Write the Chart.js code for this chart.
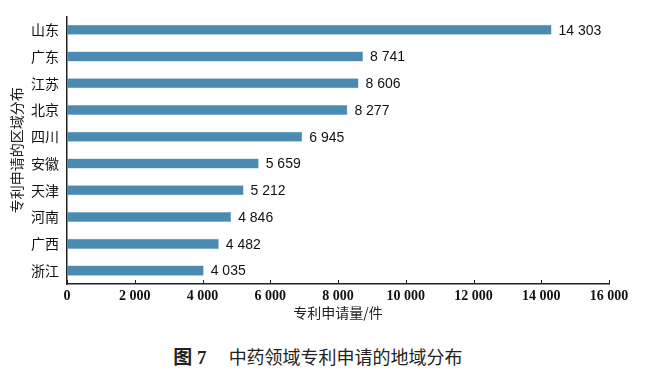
<!DOCTYPE html>
<html>
<head>
<meta charset="utf-8">
<script src="https://cdn.jsdelivr.net/npm/chart.js@4"></script>
<style>
    body { margin: 0; background: #fff; }
    #wrap { position: relative; width: 652px; height: 330px; }
    .caption {
        width: 652px; text-align: center; margin-top: 12px;
        font-family: "Noto Sans CJK SC", sans-serif; font-size: 18px; color: #222;
        padding-right: 16px; box-sizing: border-box;
    }
    .caption b { font-family: "Liberation Serif", "Noto Sans CJK SC", serif; font-size: 19px; margin-right: 22px; }
</style>
</head>
<body>
<div id="wrap"><canvas id="chart"></canvas></div>
<div class="caption"><b>图 7</b>中药领域专利申请的地域分布</div>
<script>
// Data
const regions = ['山东', '广东', '江苏', '北京', '四川', '安徽', '天津', '河南', '广西', '浙江'];
const patents = [14303, 8741, 8606, 8277, 6945, 5659, 5212, 4846, 4482, 4035];
const xTicks = [0, 2000, 4000, 6000, 8000, 10000, 12000, 14000, 16000];

const fmt = v => String(v).replace(/\B(?=(\d{3})+(?!\d))/g, ' ');

// value labels at the end of each bar
const valueLabels = {
    id: 'valueLabels',
    afterDatasetsDraw(chart) {
        const ctx = chart.ctx;
        const meta = chart.getDatasetMeta(0);
        ctx.save();
        ctx.font = '14px "Liberation Sans", Arial, sans-serif';
        ctx.fillStyle = '#111';
        ctx.textBaseline = 'middle';
        meta.data.forEach((bar, i) => {
            ctx.fillText(fmt(patents[i]), bar.x + 7, bar.y + 1);
        });
        ctx.restore();
    }
};

// inward tick marks on the x axis
const innerTicks = {
    id: 'innerTicks',
    afterDraw(chart) {
        const ctx = chart.ctx;
        const x = chart.scales.x;
        const bottom = chart.chartArea.bottom;
        ctx.save();
        ctx.strokeStyle = '#222';
        ctx.lineWidth = 1;
        xTicks.forEach(v => {
            const px = Math.round(x.getPixelForValue(v)) + 0.5;
            ctx.beginPath();
            ctx.moveTo(px, bottom);
            ctx.lineTo(px, bottom - 4);
            ctx.stroke();
        });
        ctx.restore();
    }
};

new Chart(document.getElementById('chart'), {
    type: 'bar',
    data: {
        labels: regions,
        datasets: [{
            data: patents,
            backgroundColor: '#4a8cb1',
            borderColor: '#6fa6c4',
            borderWidth: 0.5,
            barPercentage: 0.75,
            categoryPercentage: 0.5
        }]
    },
    options: {
        indexAxis: 'y',
        responsive: true,
        maintainAspectRatio: false,
        animation: false,
        layout: { padding: { top: 14, right: 43, left: 8, bottom: 9 } },
        plugins: {
            legend: { display: false },
            tooltip: { enabled: false }
        },
        scales: {
            x: {
                min: 0,
                max: 16000,
                afterBuildTicks: s => { s.ticks = xTicks.map(v => ({ value: v })); },
                grid: { display: false, drawTicks: false },
                border: { color: '#222', width: 1.5 },
                ticks: {
                    color: '#111',
                    padding: 4,
                    maxRotation: 0,
                    font: { family: '"Liberation Serif", serif', size: 14, weight: 'bold' },
                    callback: v => fmt(v)
                },
                title: {
                    display: true,
                    text: '专利申请量/件',
                    color: '#222',
                    padding: { top: 3, bottom: 0 },
                    font: { family: '"Noto Sans CJK SC", sans-serif', size: 14 }
                },
                afterFit: s => { s.height = 37; }
            },
            y: {
                grid: { display: false, drawTicks: false },
                border: { color: '#222', width: 1.5 },
                ticks: {
                    color: '#111',
                    padding: 8,
                    font: { family: '"Noto Sans CJK SC", sans-serif', size: 14 }
                },
                title: {
                    display: true,
                    text: '专利申请的区域分布',
                    color: '#222',
                    padding: { top: 0, bottom: 2 },
                    font: { family: '"Noto Sans CJK SC", sans-serif', size: 14 }
                },
                afterFit: s => { s.width = 59; }
            }
        }
    },
    plugins: [valueLabels, innerTicks]
});
</script>
</body>
</html>
